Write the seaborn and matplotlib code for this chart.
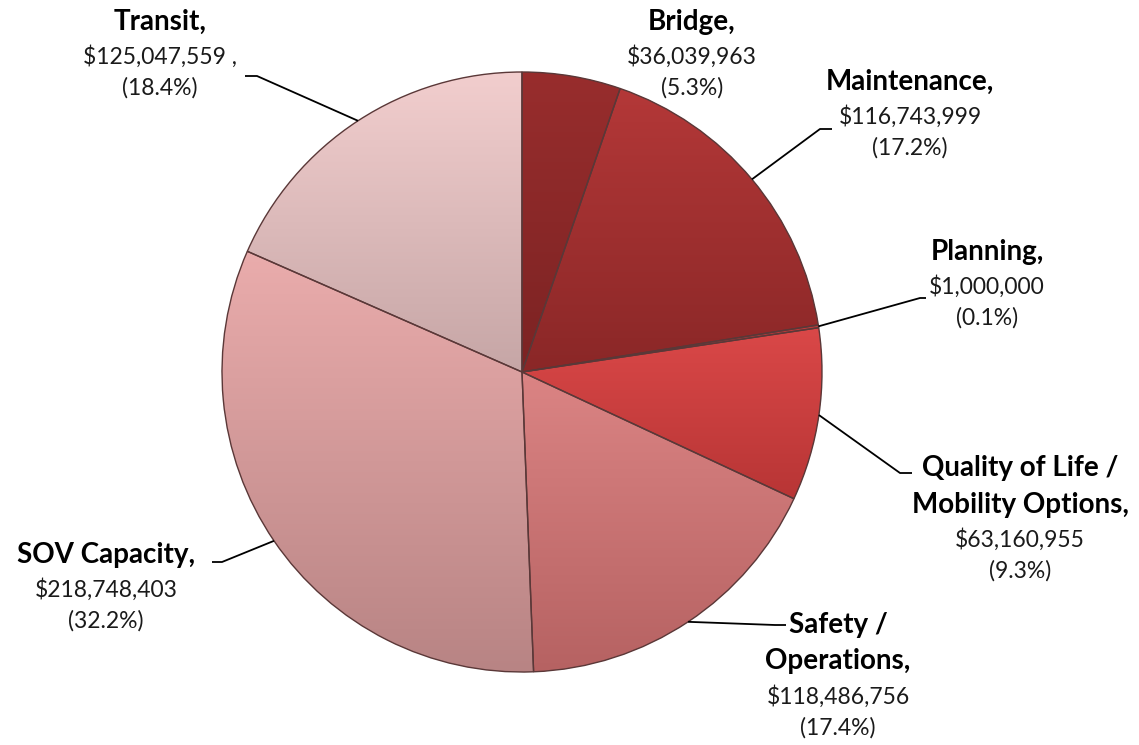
import matplotlib
matplotlib.use("Agg")
import matplotlib.pyplot as plt
from matplotlib.colors import LinearSegmentedColormap
import numpy as np
import seaborn as sns

# Funding by category, clockwise from 12 o'clock
categories = ["Bridge", "Maintenance", "Planning", "Quality of Life /\nMobility Options",
              "Safety /\nOperations", "SOV Capacity", "Transit"]
amounts = [36039963, 116743999, 1000000, 63160955, 118486756, 218748403, 125047559]

# each slice is shaded light (top) to dark (bottom)
colors_top = ["#982D2D", "#B43838", "#C03C3C", "#DA4848", "#DB8484", "#EAACAC", "#F2CECE"]
colors_bottom = ["#7C2323", "#8A2727", "#A03232", "#B83535", "#B66262", "#B88484", "#C6A6A6"]

sns.set_theme(style="white")
plt.rcParams["font.family"] = ["Lato", "DejaVu Sans"]

fig = plt.figure(figsize=(11.39, 7.45), dpi=100)
ax = fig.add_axes([0, 0, 1, 1])

cx, cy, r = 522, 372, 300
# y axis is flipped, so counterclockwise in data space -> clockwise on screen
wedges, _ = ax.pie(amounts, colors=colors_top, startangle=-90, counterclock=True,
                   center=(cx, cy), radius=r, frame=True,
                   wedgeprops=dict(edgecolor="none", linewidth=0))
ax.set_xlim(0, 1139)
ax.set_ylim(745, 0)

grad = np.linspace(0, 1, 256).reshape(-1, 1)
for w, ct, cb in zip(wedges, colors_top, colors_bottom):
    bb = w.get_path().get_extents()
    cmap = LinearSegmentedColormap.from_list("g", [ct, cb])
    im = ax.imshow(grad, cmap=cmap, aspect="auto", origin="upper",
                   extent=(bb.x0, bb.x1, bb.y1, bb.y0), zorder=2)
    im.set_clip_path(w)

# slice outlines on top
ax.pie(amounts, startangle=-90, counterclock=True, center=(cx, cy), radius=r,
       frame=True, wedgeprops=dict(fill=False, edgecolor="#5a3838", linewidth=1.0, zorder=3))

ax.set_xlim(0, 1139)
ax.set_ylim(745, 0)
ax.set_aspect("equal")
ax.axis("off")

total = sum(amounts)

# label text position (center of first line) and leader elbow, per category
label_pos = [(692, 22), (910, 82), (987, 252), (1020, 468), (838, 625), (106, 555), (160, 22)]
elbows = [None, [(820, 129), (832, 129)], [(920, 298), (926, 298)],
          [(900, 473), (912, 473)], [(775, 625), (786, 625)],
          [(222, 562), (212, 562)], [(257, 76), (245, 76)]]

for w, cat, amt, pos, elb in zip(wedges, categories, amounts, label_pos, elbows):
    pct = amt / total * 100
    name_lines = cat.split("\n")
    name_lines[-1] = name_lines[-1] + ","
    x, y = pos
    for i, line in enumerate(name_lines):
        ax.text(x, y + i * 36.5, line, ha="center", va="center", fontsize=20,
                fontweight="bold", color="black", zorder=5)
    n = len(name_lines)
    yv = y + (n - 1) * 36.5 + 35
    money = f"${amt:,}" + (" ," if cat == "Transit" else "")
    ax.text(x, yv, money, ha="center", va="center", fontsize=16.5, color="#1a1a1a", zorder=5)
    ax.text(x, yv + 31, f"({pct:.1f}%)", ha="center", va="center", fontsize=16.5,
            color="#1a1a1a", zorder=5)
    if elb is not None:
        mid = np.deg2rad((w.theta1 + w.theta2) / 2)
        px = cx + r * np.cos(mid)
        py = cy + r * np.sin(mid)
        xs = [px] + [p[0] for p in elb]
        ys = [py] + [p[1] for p in elb]
        ax.plot(xs, ys, color="black", lw=1.3, solid_capstyle="butt", zorder=4)

fig.savefig("out.png", dpi=100, facecolor="white")
